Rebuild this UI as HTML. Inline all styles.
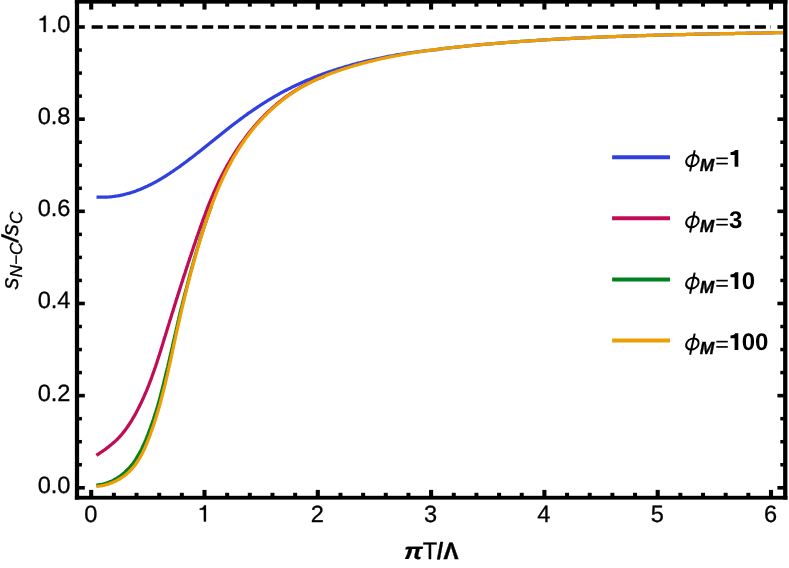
<!DOCTYPE html>
<html><head><meta charset="utf-8"><title>plot</title>
<style>
html,body{margin:0;padding:0;background:#fff;}
body{width:789px;height:568px;overflow:hidden;font-family:"Liberation Sans",sans-serif;}
svg{display:block;will-change:transform;}
text{font-family:"Liberation Sans",sans-serif;fill:#000;text-rendering:geometricPrecision;}
</style></head><body>
<svg width="789" height="568" viewBox="0 0 789 568">
<rect width="789" height="568" fill="#fff"/>
<g fill="none" stroke-linejoin="round" stroke-linecap="butt" stroke-width="3.25">
<path stroke="#2f40df" d="M96.5 197.0 L97.7 197.1 L98.9 197.1 L100.1 197.2 L101.3 197.2 L102.5 197.2 L103.7 197.2 L104.9 197.2 L106.1 197.1 L107.3 197.1 L108.5 197.0 L109.7 196.9 L110.9 196.8 L112.1 196.7 L113.3 196.5 L114.5 196.4 L115.6 196.2 L116.8 196.0 L118.0 195.8 L119.2 195.6 L120.4 195.4 L121.5 195.1 L122.7 194.9 L123.9 194.6 L125.0 194.3 L126.2 194.0 L127.4 193.7 L128.5 193.4 L129.7 193.1 L130.8 192.7 L132.0 192.3 L133.1 192.0 L134.2 191.6 L135.4 191.2 L136.5 190.8 L137.6 190.3 L138.7 189.9 L139.9 189.5 L141.0 189.0 L142.1 188.5 L143.2 188.1 L144.3 187.6 L145.4 187.1 L146.5 186.6 L147.5 186.1 L148.6 185.5 L149.7 185.0 L150.8 184.5 L151.8 183.9 L152.9 183.4 L154.0 182.8 L155.0 182.2 L156.1 181.7 L157.1 181.1 L158.2 180.5 L159.2 179.9 L160.2 179.3 L161.3 178.7 L162.3 178.1 L163.3 177.4 L164.3 176.8 L165.4 176.2 L166.4 175.5 L167.4 174.9 L168.4 174.2 L169.4 173.6 L170.4 172.9 L171.4 172.2 L172.4 171.6 L173.4 170.9 L174.4 170.2 L175.4 169.5 L176.3 168.8 L177.3 168.2 L178.3 167.5 L179.3 166.8 L180.3 166.1 L181.2 165.4 L182.2 164.7 L183.2 164.0 L184.1 163.2 L185.1 162.5 L186.1 161.8 L187.0 161.1 L188.0 160.4 L188.9 159.6 L189.9 158.9 L190.9 158.2 L191.8 157.5 L192.8 156.7 L193.7 156.0 L194.7 155.3 L195.6 154.5 L196.5 153.8 L197.5 153.0 L198.4 152.3 L199.4 151.6 L200.3 150.8 L201.3 150.1 L202.2 149.3 L203.1 148.6 L204.1 147.8 L205.0 147.1 L206.0 146.3 L206.9 145.6 L207.8 144.8 L208.8 144.1 L209.7 143.3 L210.6 142.6 L211.6 141.8 L212.5 141.1 L213.4 140.3 L214.4 139.6 L215.3 138.8 L216.2 138.1 L217.2 137.3 L218.1 136.6 L219.1 135.8 L220.0 135.1 L220.9 134.3 L221.9 133.6 L222.8 132.8 L223.7 132.1 L224.7 131.3 L225.6 130.6 L226.6 129.8 L227.5 129.1 L228.4 128.4 L229.4 127.6 L230.3 126.9 L231.3 126.1 L232.2 125.4 L233.2 124.7 L234.1 123.9 L235.1 123.2 L236.0 122.5 L237.0 121.8 L238.0 121.0 L238.9 120.3 L239.9 119.6 L240.8 118.9 L241.8 118.2 L242.8 117.4 L243.7 116.7 L244.7 116.0 L245.7 115.3 L246.7 114.6 L247.6 113.9 L248.6 113.2 L249.6 112.5 L250.6 111.9 L251.6 111.2 L252.5 110.5 L253.5 109.8 L254.5 109.1 L255.5 108.5 L256.5 107.8 L257.5 107.1 L258.5 106.5 L259.5 105.8 L260.5 105.2 L261.5 104.5 L262.5 103.9 L263.6 103.2 L264.6 102.6 L265.6 101.9 L266.6 101.3 L267.6 100.7 L268.7 100.0 L269.7 99.4 L270.7 98.8 L271.7 98.2 L272.8 97.6 L273.8 97.0 L274.8 96.4 L275.9 95.8 L276.9 95.2 L278.0 94.6 L279.0 94.0 L280.1 93.4 L281.1 92.8 L282.2 92.3 L283.2 91.7 L284.3 91.1 L285.4 90.6 L286.4 90.0 L287.5 89.5 L288.6 88.9 L289.6 88.4 L290.7 87.9 L291.8 87.3 L292.9 86.8 L293.9 86.3 L295.0 85.8 L296.1 85.2 L297.2 84.7 L298.3 84.2 L299.4 83.7 L300.5 83.2 L301.5 82.7 L302.6 82.2 L303.7 81.8 L304.8 81.3 L305.9 80.8 L307.0 80.3 L308.2 79.9 L309.3 79.4 L310.4 78.9 L311.5 78.5 L312.6 78.0 L313.7 77.6 L314.8 77.1 L315.9 76.7 L317.1 76.3 L318.2 75.8 L319.3 75.4 L320.4 75.0 L321.5 74.6 L322.7 74.1 L323.8 73.7 L324.9 73.3 L326.1 72.9 L327.2 72.5 L328.3 72.1 L329.5 71.7 L330.6 71.4 L331.7 71.0 L332.9 70.6 L334.0 70.2 L335.1 69.8 L336.3 69.5 L337.4 69.1 L338.6 68.7 L339.7 68.4 L340.9 68.0 L342.0 67.7 L343.2 67.3 L344.3 67.0 L345.5 66.7 L346.6 66.3 L347.8 66.0 L348.9 65.7 L350.1 65.3 L351.2 65.0 L352.4 64.7 L353.5 64.4 L354.7 64.1 L355.9 63.8 L357.0 63.4 L358.2 63.1 L359.4 62.8 L360.5 62.6 L361.7 62.3 L362.8 62.0 L364.0 61.7 L365.2 61.4 L366.3 61.1 L367.5 60.9 L368.7 60.6 L369.8 60.3 L371.0 60.0 L372.2 59.8 L373.4 59.5 L374.5 59.3 L375.7 59.0 L376.9 58.8 L378.1 58.5 L379.2 58.3 L380.4 58.0 L381.6 57.8 L382.8 57.5 L383.9 57.3 L385.1 57.1 L386.3 56.9 L387.5 56.6 L388.6 56.4 L389.8 56.2 L391.0 56.0 L392.2 55.8 L393.4 55.6 L394.6 55.3 L395.7 55.1 L396.9 54.9 L398.1 54.7 L399.3 54.5 L400.5 54.3 L401.7 54.2 L402.8 54.0 L404.0 53.8 L405.2 53.6 L406.4 53.4 L407.6 53.2 L408.8 53.1 L410.0 52.9 L411.1 52.7 L412.3 52.5 L413.5 52.4 L414.7 52.2 L415.9 52.0 L417.1 51.9 L418.3 51.7 L419.5 51.6 L420.7 51.4 L421.8 51.3 L423.0 51.1 L424.2 51.0 L425.4 50.8 L426.6 50.7 L427.8 50.6 L429.0 50.4 L430.2 50.3 L431.4 50.2 L432.6 50.0 L433.8 49.9 L435.0 49.8 L436.2 49.6 L437.3 49.5 L438.0 49.5 L438.7 49.1 L439.9 49.0 L441.1 48.8 L442.3 48.7 L443.5 48.6 L444.7 48.4 L445.9 48.3 L447.1 48.1 L448.2 48.0 L449.4 47.9 L450.6 47.7 L451.8 47.6 L453.0 47.5 L454.2 47.3 L455.4 47.2 L456.6 47.1 L457.8 47.0 L459.0 46.8 L460.2 46.7 L461.4 46.6 L462.6 46.5 L463.8 46.3 L464.9 46.2 L466.1 46.1 L467.3 46.0 L468.5 45.9 L469.7 45.7 L470.9 45.6 L472.1 45.5 L473.3 45.4 L474.5 45.3 L475.7 45.2 L476.9 45.1 L478.1 44.9 L479.3 44.8 L480.5 44.7 L481.7 44.6 L482.9 44.5 L484.1 44.4 L485.3 44.3 L486.5 44.2 L487.6 44.1 L488.8 44.0 L490.0 43.9 L491.2 43.8 L492.4 43.7 L493.6 43.6 L494.8 43.5 L496.0 43.4 L497.2 43.3 L498.4 43.2 L499.6 43.1 L500.8 43.0 L502.0 42.9 L503.2 42.8 L504.4 42.7 L505.6 42.6 L506.8 42.5 L508.0 42.4 L509.2 42.3 L510.4 42.2 L511.6 42.1 L512.8 42.1 L514.0 42.0 L515.2 41.9 L516.4 41.8 L517.6 41.7 L518.7 41.6 L519.9 41.5 L521.1 41.4 L522.3 41.4 L523.5 41.3 L524.7 41.2 L525.9 41.1 L527.1 41.0 L528.3 40.9 L529.5 40.9 L530.7 40.8 L531.9 40.7 L533.1 40.6 L534.3 40.5 L535.5 40.5 L536.7 40.4 L537.9 40.3 L539.1 40.2 L540.3 40.2 L541.5 40.1 L542.7 40.0 L543.9 39.9 L545.1 39.9 L546.3 39.8 L547.5 39.7 L548.7 39.6 L549.9 39.6 L551.1 39.5 L552.3 39.4 L553.5 39.4 L554.7 39.3 L555.9 39.2 L557.1 39.2 L558.3 39.1 L559.5 39.0 L560.7 39.0 L561.9 38.9 L563.1 38.8 L564.3 38.8 L565.5 38.7 L566.7 38.6 L567.9 38.6 L569.1 38.5 L570.3 38.5 L571.4 38.4 L572.6 38.3 L573.8 38.3 L575.0 38.2 L576.2 38.2 L577.4 38.1 L578.6 38.0 L579.8 38.0 L581.0 37.9 L582.2 37.9 L583.4 37.8 L584.6 37.8 L585.8 37.7 L587.0 37.6 L588.2 37.6 L589.4 37.5 L590.6 37.5 L591.8 37.4 L593.0 37.4 L594.2 37.3 L595.4 37.3 L596.6 37.2 L597.8 37.2 L599.0 37.1 L600.2 37.1 L601.4 37.0 L602.6 37.0 L603.8 36.9 L605.0 36.9 L606.2 36.8 L607.4 36.8 L608.6 36.7 L609.8 36.7 L611.0 36.6 L612.2 36.6 L613.4 36.6 L614.6 36.5 L615.8 36.5 L617.0 36.4 L618.2 36.4 L619.4 36.3 L620.6 36.3 L621.8 36.3 L623.0 36.2 L624.2 36.2 L625.4 36.1 L626.6 36.1 L627.8 36.0 L629.0 36.0 L630.2 36.0 L631.4 35.9 L632.6 35.9 L633.8 35.8 L635.0 35.8 L636.2 35.8 L637.4 35.7 L638.6 35.7 L639.8 35.7 L641.0 35.6 L642.2 35.6 L643.4 35.5 L644.6 35.5 L645.8 35.5 L647.0 35.4 L648.2 35.4 L649.4 35.4 L650.6 35.3 L651.8 35.3 L653.0 35.3 L654.2 35.2 L655.4 35.2 L656.6 35.2 L657.8 35.1 L659.0 35.1 L660.2 35.1 L661.4 35.0 L662.6 35.0 L663.8 35.0 L665.0 34.9 L666.2 34.9 L667.4 34.9 L668.6 34.9 L669.8 34.8 L671.0 34.8 L672.2 34.8 L673.4 34.7 L674.6 34.7 L675.8 34.7 L677.0 34.6 L678.2 34.6 L679.4 34.6 L680.6 34.6 L681.8 34.5 L683.0 34.5 L684.2 34.5 L685.4 34.5 L686.6 34.4 L687.8 34.4 L689.0 34.4 L690.2 34.3 L691.4 34.3 L692.6 34.3 L693.8 34.3 L695.0 34.2 L696.2 34.2 L697.4 34.2 L698.6 34.2 L699.8 34.1 L701.0 34.1 L702.2 34.1 L703.4 34.1 L704.6 34.0 L705.8 34.0 L707.0 34.0 L708.2 34.0 L709.4 33.9 L710.6 33.9 L711.8 33.9 L713.0 33.9 L714.2 33.8 L715.4 33.8 L716.6 33.8 L717.8 33.8 L719.0 33.8 L720.2 33.7 L721.4 33.7 L722.6 33.7 L723.8 33.7 L725.0 33.6 L726.2 33.6 L727.4 33.6 L728.6 33.6 L729.8 33.6 L731.0 33.5 L732.2 33.5 L733.4 33.5 L734.6 33.5 L735.8 33.4 L737.0 33.4 L738.2 33.4 L739.4 33.4 L740.6 33.4 L741.8 33.3 L743.0 33.3 L744.2 33.3 L745.4 33.3 L746.6 33.2 L747.8 33.2 L749.0 33.2 L750.2 33.2 L751.4 33.2 L752.6 33.1 L753.8 33.1 L755.0 33.1 L756.2 33.1 L757.4 33.1 L758.6 33.0 L759.8 33.0 L761.0 33.0 L762.2 33.0 L763.4 32.9 L764.6 32.9 L765.8 32.9 L767.0 32.9 L768.2 32.9 L769.4 32.8 L770.6 32.8 L771.8 32.8 L773.0 32.8 L774.2 32.7 L775.4 32.7 L776.6 32.7 L777.8 32.7 L779.0 32.7 L780.2 32.6 L781.4 32.6 L782.6 32.6 L783.3 32.6"/>
<path stroke="#c00c55" d="M96.4 455.4 L97.4 454.7 L98.4 454.1 L99.4 453.4 L100.4 452.7 L101.4 452.0 L102.4 451.3 L103.3 450.7 L104.3 450.0 L105.3 449.3 L106.3 448.6 L107.2 447.8 L108.2 447.1 L109.1 446.4 L110.1 445.6 L111.0 444.9 L111.9 444.1 L112.8 443.3 L113.7 442.6 L114.6 441.8 L115.5 440.9 L116.4 440.1 L117.3 439.3 L118.1 438.4 L118.9 437.6 L119.7 436.7 L120.5 435.8 L121.3 434.9 L122.1 434.0 L122.9 433.0 L123.6 432.1 L124.4 431.2 L125.1 430.2 L125.8 429.2 L126.5 428.3 L127.2 427.3 L127.9 426.3 L128.6 425.3 L129.2 424.3 L129.9 423.3 L130.5 422.3 L131.2 421.3 L131.8 420.3 L132.4 419.2 L133.0 418.2 L133.6 417.2 L134.2 416.1 L134.8 415.1 L135.4 414.0 L136.0 413.0 L136.5 411.9 L137.1 410.8 L137.6 409.8 L138.2 408.7 L138.7 407.6 L139.3 406.6 L139.8 405.5 L140.3 404.4 L140.9 403.3 L141.4 402.3 L141.9 401.2 L142.4 400.1 L142.9 399.0 L143.4 397.9 L143.9 396.8 L144.4 395.7 L144.8 394.6 L145.3 393.5 L145.8 392.4 L146.3 391.3 L146.7 390.2 L147.2 389.1 L147.6 388.0 L148.1 386.9 L148.5 385.7 L149.0 384.6 L149.4 383.5 L149.8 382.4 L150.2 381.3 L150.7 380.1 L151.1 379.0 L151.5 377.9 L151.9 376.8 L152.3 375.6 L152.7 374.5 L153.1 373.4 L153.5 372.2 L153.9 371.1 L154.3 370.0 L154.7 368.8 L155.1 367.7 L155.5 366.6 L155.9 365.4 L156.2 364.3 L156.6 363.2 L157.0 362.0 L157.4 360.9 L157.7 359.7 L158.1 358.6 L158.5 357.4 L158.8 356.3 L159.2 355.2 L159.6 354.0 L159.9 352.9 L160.3 351.7 L160.7 350.6 L161.0 349.4 L161.4 348.3 L161.7 347.1 L162.1 346.0 L162.4 344.9 L162.8 343.7 L163.1 342.6 L163.5 341.4 L163.8 340.3 L164.2 339.1 L164.5 338.0 L164.9 336.8 L165.3 335.7 L165.6 334.5 L166.0 333.4 L166.3 332.2 L166.7 331.1 L167.0 329.9 L167.4 328.8 L167.7 327.6 L168.1 326.5 L168.4 325.4 L168.8 324.2 L169.1 323.1 L169.5 321.9 L169.8 320.8 L170.2 319.6 L170.6 318.5 L170.9 317.3 L171.3 316.2 L171.6 315.0 L172.0 313.9 L172.3 312.7 L172.7 311.6 L173.1 310.5 L173.4 309.3 L173.8 308.2 L174.1 307.0 L174.5 305.9 L174.8 304.7 L175.2 303.6 L175.6 302.4 L175.9 301.3 L176.3 300.1 L176.6 299.0 L177.0 297.9 L177.4 296.7 L177.7 295.6 L178.1 294.4 L178.5 293.3 L178.8 292.1 L179.2 291.0 L179.5 289.9 L179.9 288.7 L180.3 287.6 L180.6 286.4 L181.0 285.3 L181.4 284.1 L181.7 283.0 L182.1 281.9 L182.5 280.7 L182.8 279.6 L183.2 278.4 L183.6 277.3 L183.9 276.1 L184.3 275.0 L184.7 273.9 L185.1 272.7 L185.4 271.6 L185.8 270.4 L186.2 269.3 L186.5 268.2 L186.9 267.0 L187.3 265.9 L187.7 264.7 L188.0 263.6 L188.4 262.5 L188.8 261.3 L189.2 260.2 L189.5 259.0 L189.9 257.9 L190.3 256.8 L190.7 255.6 L191.1 254.5 L191.4 253.3 L191.8 252.2 L192.2 251.1 L192.6 249.9 L193.0 248.8 L193.3 247.7 L193.7 246.5 L194.1 245.4 L194.5 244.2 L194.9 243.1 L195.3 242.0 L195.6 240.8 L196.0 239.7 L196.4 238.6 L196.8 237.4 L197.2 236.3 L197.6 235.2 L198.0 234.0 L198.4 232.9 L198.8 231.8 L199.2 230.6 L199.6 229.5 L200.0 228.4 L200.4 227.2 L200.8 226.1 L201.2 225.0 L201.6 223.8 L202.0 222.7 L202.4 221.6 L202.8 220.4 L203.2 219.3 L203.6 218.2 L204.0 217.1 L204.4 215.9 L204.9 214.8 L205.3 213.7 L205.7 212.6 L206.1 211.4 L206.6 210.3 L207.0 209.2 L207.4 208.1 L207.9 207.0 L208.3 205.9 L208.7 204.7 L209.2 203.6 L209.6 202.5 L210.1 201.4 L210.5 200.3 L211.0 199.2 L211.5 198.1 L211.9 197.0 L212.4 195.9 L212.9 194.8 L213.3 193.7 L213.8 192.6 L214.3 191.5 L214.8 190.4 L215.3 189.3 L215.8 188.2 L216.3 187.1 L216.8 186.0 L217.3 184.9 L217.8 183.8 L218.3 182.7 L218.8 181.6 L219.3 180.6 L219.9 179.5 L220.4 178.4 L220.9 177.3 L221.5 176.3 L222.0 175.2 L222.6 174.1 L223.1 173.1 L223.7 172.0 L224.2 170.9 L224.8 169.9 L225.4 168.8 L226.0 167.8 L226.5 166.7 L227.1 165.7 L227.7 164.6 L228.3 163.6 L228.9 162.6 L229.5 161.5 L230.1 160.5 L230.7 159.4 L231.3 158.4 L232.0 157.4 L232.6 156.4 L233.2 155.3 L233.9 154.3 L234.5 153.3 L235.1 152.3 L235.8 151.3 L236.4 150.3 L237.1 149.3 L237.8 148.3 L238.4 147.3 L239.1 146.3 L239.8 145.3 L240.5 144.3 L241.2 143.3 L241.9 142.4 L242.5 141.4 L243.3 140.4 L244.0 139.4 L244.7 138.5 L245.4 137.5 L246.1 136.6 L246.8 135.6 L247.6 134.6 L248.3 133.7 L249.1 132.8 L249.8 131.8 L250.6 130.9 L251.3 130.0 L252.1 129.0 L252.9 128.1 L253.6 127.2 L254.4 126.3 L255.2 125.4 L256.0 124.5 L256.8 123.6 L257.6 122.7 L258.4 121.8 L259.2 120.9 L260.0 120.0 L260.8 119.1 L261.7 118.3 L262.5 117.4 L263.3 116.6 L264.2 115.7 L265.0 114.8 L265.9 114.0 L266.7 113.2 L267.6 112.3 L268.5 111.5 L269.3 110.7 L270.2 109.9 L271.1 109.1 L272.0 108.3 L272.9 107.5 L273.8 106.7 L274.7 105.9 L275.6 105.1 L276.5 104.3 L277.4 103.5 L278.4 102.8 L279.3 102.0 L280.2 101.3 L281.2 100.5 L282.1 99.8 L283.1 99.1 L284.0 98.3 L285.0 97.6 L286.0 96.9 L286.9 96.2 L287.9 95.5 L288.9 94.8 L289.9 94.2 L290.9 93.5 L291.9 92.8 L292.9 92.1 L293.9 91.5 L294.9 90.9 L295.9 90.2 L296.9 89.6 L298.0 89.0 L299.0 88.3 L300.0 87.7 L301.1 87.1 L302.1 86.5 L303.2 86.0 L304.2 85.4 L305.3 84.8 L306.3 84.3 L307.4 83.7 L308.5 83.2 L309.5 82.6 L310.6 82.1 L311.7 81.6 L312.8 81.1 L313.9 80.6 L315.0 80.1 L316.1 79.6 L317.2 79.1 L318.3 78.6 L319.4 78.2 L320.5 77.7 L321.6 77.3 L322.7 76.9 L323.8 76.4 L324.8 76.1"/>
<path stroke="#008020" d="M96.3 485.2 L97.4 485.1 L98.6 484.9 L99.8 484.7 L100.9 484.5 L102.1 484.3 L103.2 484.0 L104.3 483.7 L105.4 483.4 L106.6 483.0 L107.7 482.6 L108.8 482.2 L109.8 481.8 L110.9 481.4 L112.0 480.9 L113.0 480.4 L114.1 479.8 L115.1 479.3 L116.1 478.7 L117.1 478.1 L118.1 477.5 L119.0 476.8 L120.0 476.2 L120.9 475.5 L121.8 474.8 L122.7 474.1 L123.6 473.3 L124.4 472.6 L125.2 471.8 L126.1 471.0 L126.9 470.2 L127.7 469.4 L128.5 468.6 L129.3 467.8 L130.1 466.9 L130.8 466.1 L131.6 465.2 L132.3 464.3 L133.0 463.4 L133.7 462.4 L134.3 461.5 L135.0 460.5 L135.6 459.6 L136.2 458.6 L136.8 457.6 L137.4 456.6 L138.0 455.6 L138.6 454.6 L139.2 453.6 L139.8 452.6 L140.3 451.5 L140.9 450.5 L141.4 449.5 L141.9 448.4 L142.4 447.3 L142.9 446.3 L143.4 445.2 L143.9 444.1 L144.4 443.0 L144.9 442.0 L145.3 440.9 L145.8 439.8 L146.2 438.7 L146.7 437.6 L147.1 436.5 L147.6 435.4 L148.0 434.3 L148.4 433.1 L148.9 432.0 L149.3 430.9 L149.7 429.8 L150.1 428.7 L150.5 427.6 L150.9 426.4 L151.3 425.3 L151.7 424.2 L152.1 423.1 L152.5 421.9 L152.9 420.8 L153.3 419.7 L153.7 418.5 L154.0 417.4 L154.4 416.3 L154.8 415.1 L155.1 414.0 L155.5 412.9 L155.9 411.7 L156.2 410.6 L156.6 409.4 L156.9 408.3 L157.3 407.2 L157.6 406.0 L158.0 404.9 L158.3 403.7 L158.6 402.6 L159.0 401.4 L159.3 400.3 L159.6 399.1 L159.9 398.0 L160.2 396.8 L160.5 395.6 L160.8 394.5 L161.1 393.3 L161.4 392.2 L161.7 391.0 L162.0 389.9 L162.3 388.7 L162.6 387.5 L162.9 386.4 L163.2 385.2 L163.5 384.0 L163.8 382.9 L164.1 381.7 L164.3 380.6 L164.6 379.4 L164.9 378.2 L165.2 377.1 L165.5 375.9 L165.8 374.7 L166.0 373.6 L166.3 372.4 L166.6 371.2 L166.9 370.1 L167.2 368.9 L167.5 367.8 L167.8 366.6 L168.0 365.4 L168.3 364.3 L168.6 363.1 L168.9 361.9 L169.2 360.8 L169.4 359.6 L169.7 358.4 L170.0 357.2 L170.2 356.1 L170.5 354.9 L170.8 353.7 L171.0 352.6 L171.3 351.4 L171.6 350.2 L171.8 349.1 L172.1 347.9 L172.4 346.7 L172.6 345.5 L172.9 344.4 L173.1 343.2 L173.4 342.0 L173.7 340.9 L173.9 339.7 L174.2 338.5 L174.5 337.3 L174.7 336.2 L175.0 335.0 L175.3 333.8 L175.5 332.7 L175.8 331.5 L176.1 330.3 L176.3 329.2 L176.6 328.0 L176.9 326.8 L177.1 325.6 L177.4 324.5 L177.7 323.3 L177.9 322.1 L178.2 321.0 L178.5 319.8 L178.7 318.6 L179.0 317.5 L179.3 316.3 L179.6 315.1 L179.8 313.9 L180.1 312.8 L180.4 311.6 L180.7 310.4 L181.0 309.3 L181.3 308.1 L181.6 307.0 L181.9 305.8 L182.2 304.6 L182.4 303.5 L182.7 302.3 L183.0 301.1 L183.3 300.0 L183.6 298.8 L183.9 297.6 L184.2 296.5 L184.5 295.3 L184.8 294.2 L185.1 293.0 L185.4 291.8 L185.8 290.7 L186.1 289.5 L186.4 288.3 L186.7 287.2 L187.0 286.0 L187.3 284.9 L187.6 283.7 L187.9 282.5 L188.2 281.4 L188.5 280.2 L188.8 279.1 L189.1 277.9 L189.4 276.7 L189.7 275.6 L190.0 274.4 L190.3 273.3 L190.6 272.1 L191.0 270.9 L191.3 269.8 L191.6 268.6 L191.9 267.5 L192.2 266.3 L192.6 265.2 L192.9 264.0 L193.2 262.8 L193.5 261.7 L193.8 260.5 L194.2 259.4 L194.5 258.2 L194.8 257.1 L195.2 255.9 L195.5 254.8 L195.8 253.6 L196.1 252.4 L196.5 251.3 L196.8 250.1 L197.2 249.0 L197.5 247.8 L197.8 246.7 L198.2 245.5 L198.5 244.4 L198.9 243.2 L199.2 242.1 L199.6 240.9 L199.9 239.8 L200.3 238.6 L200.7 237.5 L201.0 236.4 L201.4 235.2 L201.8 234.1 L202.1 232.9 L202.5 231.8 L202.9 230.7 L203.3 229.5 L203.6 228.4 L204.0 227.2 L204.4 226.1 L204.8 225.0 L205.2 223.8 L205.6 222.7 L206.0 221.6 L206.4 220.4 L206.7 219.3 L207.1 218.2 L207.5 217.0 L207.9 215.9 L208.3 214.8 L208.7 213.6 L209.1 212.5 L209.5 211.4 L209.9 210.2 L210.3 209.1 L210.8 208.0 L211.2 206.9 L211.6 205.7"/>
<path stroke="#ec9e04" d="M96.4 486.5 L97.6 486.4 L98.8 486.2 L100.0 486.0 L101.1 485.8 L102.3 485.6 L103.5 485.4 L104.7 485.1 L105.8 484.8 L107.0 484.4 L108.1 484.1 L109.3 483.7 L110.4 483.3 L111.5 482.9 L112.6 482.4 L113.7 482.0 L114.8 481.5 L115.9 481.0 L117.0 480.4 L118.0 479.8 L119.1 479.3 L120.1 478.6 L121.1 478.0 L122.1 477.3 L123.1 476.7 L124.1 476.0 L125.1 475.2 L126.0 474.5 L126.9 473.7 L127.8 472.9 L128.7 472.1 L129.6 471.3 L130.4 470.4 L131.2 469.6 L132.0 468.7 L132.8 467.8 L133.6 466.8 L134.3 465.9 L135.1 464.9 L135.8 464.0 L136.5 463.0 L137.2 462.0 L137.8 461.0 L138.5 460.0 L139.1 459.0 L139.7 458.0 L140.3 456.9 L140.9 455.9 L141.5 454.8 L142.0 453.8 L142.6 452.7 L143.1 451.6 L143.6 450.5 L144.2 449.4 L144.7 448.4 L145.1 447.3 L145.6 446.2 L146.1 445.1 L146.6 444.0 L147.0 442.8 L147.5 441.7 L147.9 440.6 L148.4 439.5 L148.8 438.4 L149.2 437.3 L149.7 436.1 L150.1 435.0 L150.5 433.9 L150.9 432.8 L151.3 431.6 L151.7 430.5 L152.1 429.4 L152.5 428.2 L152.9 427.1 L153.3 426.0 L153.7 424.8 L154.0 423.7 L154.4 422.6 L154.8 421.4 L155.2 420.3 L155.5 419.1 L155.9 418.0 L156.2 416.8 L156.6 415.7 L156.9 414.5 L157.3 413.4 L157.6 412.2 L158.0 411.1 L158.3 409.9 L158.7 408.8 L159.0 407.6 L159.3 406.5 L159.6 405.3 L160.0 404.2 L160.3 403.0 L160.6 401.9 L160.9 400.7 L161.2 399.5 L161.5 398.4 L161.8 397.2 L162.1 396.1 L162.4 394.9 L162.7 393.7 L163.0 392.6 L163.3 391.4 L163.6 390.3 L163.9 389.1 L164.2 387.9 L164.5 386.8 L164.8 385.6 L165.1 384.4 L165.3 383.3 L165.6 382.1 L165.9 380.9 L166.2 379.8 L166.4 378.6 L166.7 377.4 L167.0 376.2 L167.3 375.1 L167.5 373.9 L167.8 372.7 L168.1 371.6 L168.3 370.4 L168.6 369.2 L168.8 368.1 L169.1 366.9 L169.4 365.7 L169.6 364.5 L169.9 363.4 L170.1 362.2 L170.4 361.0 L170.7 359.9 L170.9 358.7 L171.2 357.5 L171.4 356.3 L171.7 355.2 L171.9 354.0 L172.2 352.8 L172.4 351.6 L172.7 350.5 L172.9 349.3 L173.2 348.1 L173.4 346.9 L173.7 345.8 L173.9 344.6 L174.2 343.4 L174.4 342.3 L174.7 341.1 L175.0 339.9 L175.2 338.7 L175.5 337.6 L175.7 336.4 L176.0 335.2 L176.2 334.0 L176.5 332.9 L176.7 331.7 L177.0 330.5 L177.3 329.4 L177.5 328.2 L177.8 327.0 L178.0 325.8 L178.3 324.7 L178.6 323.5 L178.8 322.3 L179.1 321.2 L179.4 320.0 L179.6 318.8 L179.9 317.7 L180.2 316.5 L180.4 315.3 L180.7 314.1 L181.0 313.0 L181.2 311.8 L181.5 310.6 L181.8 309.5 L182.0 308.3 L182.3 307.1 L182.6 306.0 L182.9 304.8 L183.1 303.6 L183.4 302.5 L183.7 301.3 L184.0 300.1 L184.3 299.0 L184.5 297.8 L184.8 296.6 L185.1 295.5 L185.4 294.3 L185.7 293.1 L186.0 292.0 L186.3 290.8 L186.5 289.6 L186.8 288.5 L187.1 287.3 L187.4 286.1 L187.7 285.0 L188.0 283.8 L188.3 282.6 L188.6 281.5 L188.9 280.3 L189.2 279.2 L189.5 278.0 L189.8 276.8 L190.1 275.7 L190.4 274.5 L190.7 273.4 L191.0 272.2 L191.3 271.0 L191.6 269.9 L192.0 268.7 L192.3 267.6 L192.6 266.4 L192.9 265.2 L193.2 264.1 L193.5 262.9 L193.8 261.8 L194.2 260.6 L194.5 259.5 L194.8 258.3 L195.1 257.2 L195.5 256.0 L195.8 254.8 L196.1 253.7 L196.5 252.5 L196.8 251.4 L197.1 250.2 L197.5 249.1 L197.8 247.9 L198.1 246.8 L198.5 245.6 L198.8 244.5 L199.2 243.3 L199.5 242.2 L199.9 241.0 L200.2 239.9 L200.6 238.7 L200.9 237.6 L201.3 236.4 L201.6 235.3 L202.0 234.1 L202.3 233.0 L202.7 231.9 L203.1 230.7 L203.4 229.6 L203.8 228.4 L204.2 227.3 L204.5 226.1 L204.9 225.0 L205.3 223.9 L205.7 222.7 L206.0 221.6 L206.4 220.4 L206.8 219.3 L207.2 218.2 L207.6 217.0 L208.0 215.9 L208.3 214.8 L208.7 213.6 L209.1 212.5 L209.5 211.4 L209.9 210.2 L210.3 209.1 L210.8 208.0 L211.2 206.9 L211.6 205.7 L212.0 204.6 L212.4 203.5 L212.8 202.4 L213.3 201.2 L213.7 200.1 L214.1 199.0 L214.6 197.9 L215.0 196.8 L215.4 195.6 L215.9 194.5 L216.3 193.4 L216.8 192.3 L217.2 191.2 L217.7 190.1 L218.2 189.0 L218.6 187.9 L219.1 186.8 L219.6 185.7 L220.0 184.6 L220.5 183.5 L221.0 182.4 L221.5 181.3 L222.0 180.2 L222.5 179.1 L223.0 178.0 L223.5 176.9 L224.0 175.8 L224.5 174.7 L225.1 173.7 L225.6 172.6 L226.1 171.5 L226.6 170.4 L227.2 169.4 L227.7 168.3 L228.3 167.2 L228.8 166.2 L229.4 165.1 L230.0 164.0 L230.5 163.0 L231.1 161.9 L231.7 160.9 L232.3 159.8 L232.8 158.8 L233.4 157.7 L234.0 156.7 L234.6 155.7 L235.2 154.6 L235.9 153.6 L236.5 152.6 L237.1 151.5 L237.7 150.5 L238.4 149.5 L239.0 148.5 L239.7 147.5 L240.3 146.5 L241.0 145.5 L241.6 144.5 L242.3 143.5 L243.0 142.5 L243.7 141.5 L244.4 140.5 L245.0 139.5 L245.7 138.6 L246.5 137.6 L247.2 136.6 L247.9 135.7 L248.6 134.7 L249.3 133.7 L250.1 132.8 L250.8 131.8 L251.5 130.9 L252.3 130.0 L253.1 129.0 L253.8 128.1 L254.6 127.2 L255.4 126.3 L256.1 125.4 L256.9 124.5 L257.7 123.6 L258.5 122.7 L259.3 121.8 L260.1 120.9 L260.9 120.0 L261.8 119.1 L262.6 118.2 L263.4 117.4 L264.2 116.5 L265.1 115.7 L265.9 114.8 L266.8 114.0 L267.6 113.1 L268.5 112.3 L269.4 111.5 L270.2 110.6 L271.1 109.8 L272.0 109.0 L272.9 108.2 L273.8 107.4 L274.7 106.6 L275.6 105.8 L276.5 105.0 L277.4 104.3 L278.3 103.5 L279.3 102.7 L280.2 102.0 L281.1 101.2 L282.1 100.5 L283.0 99.7 L284.0 99.0 L284.9 98.3 L285.9 97.6 L286.8 96.8 L287.8 96.1 L288.8 95.4 L289.8 94.7 L290.8 94.1 L291.8 93.4 L292.7 92.7 L293.7 92.1 L294.8 91.4 L295.8 90.7 L296.8 90.1 L297.8 89.5 L298.8 88.8 L299.8 88.2 L300.9 87.6 L301.9 87.0 L303.0 86.4 L304.0 85.8 L305.1 85.2 L306.1 84.7 L307.2 84.1 L308.2 83.5 L309.3 83.0 L310.4 82.5 L311.4 81.9 L312.5 81.4 L313.6 80.9 L314.7 80.3 L315.8 79.8 L316.9 79.3 L317.9 78.8 L319.0 78.3 L320.1 77.9 L321.2 77.4 L322.3 76.9 L323.4 76.4 L324.6 76.0 L325.7 75.5 L326.8 75.1 L327.9 74.6 L329.0 74.2 L330.1 73.8 L331.2 73.3 L332.4 72.9 L333.5 72.5 L334.6 72.1 L335.8 71.7 L336.9 71.3 L338.0 70.9 L339.2 70.5 L340.3 70.1 L341.4 69.7 L342.6 69.3 L343.7 69.0 L344.8 68.6 L346.0 68.2 L347.1 67.9 L348.3 67.5 L349.4 67.2 L350.6 66.8 L351.7 66.5 L352.9 66.1 L354.0 65.8 L355.2 65.4 L356.3 65.1 L357.5 64.8 L358.6 64.5 L359.8 64.1 L361.0 63.8 L362.1 63.5 L363.3 63.2 L364.4 62.9 L365.6 62.6 L366.8 62.3 L367.9 62.0 L369.1 61.7 L370.2 61.4 L371.4 61.1 L372.6 60.8 L373.7 60.5 L374.9 60.3 L376.1 60.0 L377.2 59.7 L378.4 59.4 L379.6 59.2 L380.8 58.9 L381.9 58.7 L383.1 58.4 L384.3 58.1 L385.4 57.9 L386.6 57.6 L387.8 57.4 L389.0 57.2 L390.1 56.9 L391.3 56.7 L392.5 56.4 L393.7 56.2 L394.8 56.0 L396.0 55.8 L397.2 55.5 L398.4 55.3 L399.6 55.1 L400.7 54.9 L401.9 54.7 L403.1 54.5 L404.3 54.2 L405.5 54.0 L406.7 53.8 L407.8 53.6 L409.0 53.4 L410.2 53.2 L411.4 53.0 L412.6 52.8 L413.8 52.7 L414.9 52.5 L416.1 52.3 L417.3 52.1 L418.5 51.9 L419.7 51.7 L420.9 51.6 L422.1 51.4 L423.2 51.2 L424.4 51.0 L425.6 50.9 L426.8 50.7 L428.0 50.5 L429.2 50.4 L430.4 50.2 L431.6 50.1 L432.8 49.9 L433.9 49.7 L435.1 49.6 L436.3 49.4 L437.5 49.3 L438.7 49.1 L439.9 49.0 L441.1 48.8 L442.3 48.7 L443.5 48.6 L444.7 48.4 L445.9 48.3 L447.1 48.1 L448.2 48.0 L449.4 47.9 L450.6 47.7 L451.8 47.6 L453.0 47.5 L454.2 47.3 L455.4 47.2 L456.6 47.1 L457.8 47.0 L459.0 46.8 L460.2 46.7 L461.4 46.6 L462.6 46.5 L463.8 46.3 L464.9 46.2 L466.1 46.1 L467.3 46.0 L468.5 45.9 L469.7 45.7 L470.9 45.6 L472.1 45.5 L473.3 45.4 L474.5 45.3 L475.7 45.2 L476.9 45.1 L478.1 44.9 L479.3 44.8 L480.5 44.7 L481.7 44.6 L482.9 44.5 L484.1 44.4 L485.3 44.3 L486.5 44.2 L487.6 44.1 L488.8 44.0 L490.0 43.9 L491.2 43.8 L492.4 43.7 L493.6 43.6 L494.8 43.5 L496.0 43.4 L497.2 43.3 L498.4 43.2 L499.6 43.1 L500.8 43.0 L502.0 42.9 L503.2 42.8 L504.4 42.7 L505.6 42.6 L506.8 42.5 L508.0 42.4 L509.2 42.3 L510.4 42.2 L511.6 42.1 L512.8 42.1 L514.0 42.0 L515.2 41.9 L516.4 41.8 L517.6 41.7 L518.7 41.6 L519.9 41.5 L521.1 41.4 L522.3 41.4 L523.5 41.3 L524.7 41.2 L525.9 41.1 L527.1 41.0 L528.3 40.9 L529.5 40.9 L530.7 40.8 L531.9 40.7 L533.1 40.6 L534.3 40.5 L535.5 40.5 L536.7 40.4 L537.9 40.3 L539.1 40.2 L540.3 40.2 L541.5 40.1 L542.7 40.0 L543.9 39.9 L545.1 39.9 L546.3 39.8 L547.5 39.7 L548.7 39.6 L549.9 39.6 L551.1 39.5 L552.3 39.4 L553.5 39.4 L554.7 39.3 L555.9 39.2 L557.1 39.2 L558.3 39.1 L559.5 39.0 L560.7 39.0 L561.9 38.9 L563.1 38.8 L564.3 38.8 L565.5 38.7 L566.7 38.6 L567.9 38.6 L569.1 38.5 L570.3 38.5 L571.4 38.4 L572.6 38.3 L573.8 38.3 L575.0 38.2 L576.2 38.2 L577.4 38.1 L578.6 38.0 L579.8 38.0 L581.0 37.9 L582.2 37.9 L583.4 37.8 L584.6 37.8 L585.8 37.7 L587.0 37.6 L588.2 37.6 L589.4 37.5 L590.6 37.5 L591.8 37.4 L593.0 37.4 L594.2 37.3 L595.4 37.3 L596.6 37.2 L597.8 37.2 L599.0 37.1 L600.2 37.1 L601.4 37.0 L602.6 37.0 L603.8 36.9 L605.0 36.9 L606.2 36.8 L607.4 36.8 L608.6 36.7 L609.8 36.7 L611.0 36.6 L612.2 36.6 L613.4 36.6 L614.6 36.5 L615.8 36.5 L617.0 36.4 L618.2 36.4 L619.4 36.3 L620.6 36.3 L621.8 36.3 L623.0 36.2 L624.2 36.2 L625.4 36.1 L626.6 36.1 L627.8 36.0 L629.0 36.0 L630.2 36.0 L631.4 35.9 L632.6 35.9 L633.8 35.8 L635.0 35.8 L636.2 35.8 L637.4 35.7 L638.6 35.7 L639.8 35.7 L641.0 35.6 L642.2 35.6 L643.4 35.5 L644.6 35.5 L645.8 35.5 L647.0 35.4 L648.2 35.4 L649.4 35.4 L650.6 35.3 L651.8 35.3 L653.0 35.3 L654.2 35.2 L655.4 35.2 L656.6 35.2 L657.8 35.1 L659.0 35.1 L660.2 35.1 L661.4 35.0 L662.6 35.0 L663.8 35.0 L665.0 34.9 L666.2 34.9 L667.4 34.9 L668.6 34.9 L669.8 34.8 L671.0 34.8 L672.2 34.8 L673.4 34.7 L674.6 34.7 L675.8 34.7 L677.0 34.6 L678.2 34.6 L679.4 34.6 L680.6 34.6 L681.8 34.5 L683.0 34.5 L684.2 34.5 L685.4 34.5 L686.6 34.4 L687.8 34.4 L689.0 34.4 L690.2 34.3 L691.4 34.3 L692.6 34.3 L693.8 34.3 L695.0 34.2 L696.2 34.2 L697.4 34.2 L698.6 34.2 L699.8 34.1 L701.0 34.1 L702.2 34.1 L703.4 34.1 L704.6 34.0 L705.8 34.0 L707.0 34.0 L708.2 34.0 L709.4 33.9 L710.6 33.9 L711.8 33.9 L713.0 33.9 L714.2 33.8 L715.4 33.8 L716.6 33.8 L717.8 33.8 L719.0 33.8 L720.2 33.7 L721.4 33.7 L722.6 33.7 L723.8 33.7 L725.0 33.6 L726.2 33.6 L727.4 33.6 L728.6 33.6 L729.8 33.6 L731.0 33.5 L732.2 33.5 L733.4 33.5 L734.6 33.5 L735.8 33.4 L737.0 33.4 L738.2 33.4 L739.4 33.4 L740.6 33.4 L741.8 33.3 L743.0 33.3 L744.2 33.3 L745.4 33.3 L746.6 33.2 L747.8 33.2 L749.0 33.2 L750.2 33.2 L751.4 33.2 L752.6 33.1 L753.8 33.1 L755.0 33.1 L756.2 33.1 L757.4 33.1 L758.6 33.0 L759.8 33.0 L761.0 33.0 L762.2 33.0 L763.4 32.9 L764.6 32.9 L765.8 32.9 L767.0 32.9 L768.2 32.9 L769.4 32.8 L770.6 32.8 L771.8 32.8 L773.0 32.8 L774.2 32.7 L775.4 32.7 L776.6 32.7 L777.8 32.7 L779.0 32.7 L780.2 32.6 L781.4 32.6 L782.6 32.6 L783.3 32.6"/>
</g>
<line x1="91.6" y1="27.0" x2="771" y2="27.0" stroke="#000" stroke-width="3.3" stroke-dasharray="11.1 4.69"/>
<g fill="#000">
<rect x="74.88" y="-0.15" width="4.25" height="499.75"/><rect x="783.12" y="-0.15" width="4.25" height="499.75"/><rect x="74.88" y="-0.15" width="712.50" height="3.80"/><rect x="74.88" y="495.80" width="712.50" height="3.80"/>
<rect x="89.15" y="489.90" width="4.10" height="6.40"/>
<rect x="89.15" y="3.15" width="4.10" height="6.40"/>
<rect x="111.86" y="492.80" width="4.00" height="3.50"/>
<rect x="111.86" y="3.15" width="4.00" height="3.50"/>
<rect x="134.52" y="492.80" width="4.00" height="3.50"/>
<rect x="134.52" y="3.15" width="4.00" height="3.50"/>
<rect x="157.18" y="492.80" width="4.00" height="3.50"/>
<rect x="157.18" y="3.15" width="4.00" height="3.50"/>
<rect x="179.84" y="492.80" width="4.00" height="3.50"/>
<rect x="179.84" y="3.15" width="4.00" height="3.50"/>
<rect x="202.45" y="489.90" width="4.10" height="6.40"/>
<rect x="202.45" y="3.15" width="4.10" height="6.40"/>
<rect x="225.16" y="492.80" width="4.00" height="3.50"/>
<rect x="225.16" y="3.15" width="4.00" height="3.50"/>
<rect x="247.82" y="492.80" width="4.00" height="3.50"/>
<rect x="247.82" y="3.15" width="4.00" height="3.50"/>
<rect x="270.48" y="492.80" width="4.00" height="3.50"/>
<rect x="270.48" y="3.15" width="4.00" height="3.50"/>
<rect x="293.14" y="492.80" width="4.00" height="3.50"/>
<rect x="293.14" y="3.15" width="4.00" height="3.50"/>
<rect x="315.75" y="489.90" width="4.10" height="6.40"/>
<rect x="315.75" y="3.15" width="4.10" height="6.40"/>
<rect x="338.46" y="492.80" width="4.00" height="3.50"/>
<rect x="338.46" y="3.15" width="4.00" height="3.50"/>
<rect x="361.12" y="492.80" width="4.00" height="3.50"/>
<rect x="361.12" y="3.15" width="4.00" height="3.50"/>
<rect x="383.78" y="492.80" width="4.00" height="3.50"/>
<rect x="383.78" y="3.15" width="4.00" height="3.50"/>
<rect x="406.44" y="492.80" width="4.00" height="3.50"/>
<rect x="406.44" y="3.15" width="4.00" height="3.50"/>
<rect x="429.05" y="489.90" width="4.10" height="6.40"/>
<rect x="429.05" y="3.15" width="4.10" height="6.40"/>
<rect x="451.76" y="492.80" width="4.00" height="3.50"/>
<rect x="451.76" y="3.15" width="4.00" height="3.50"/>
<rect x="474.42" y="492.80" width="4.00" height="3.50"/>
<rect x="474.42" y="3.15" width="4.00" height="3.50"/>
<rect x="497.08" y="492.80" width="4.00" height="3.50"/>
<rect x="497.08" y="3.15" width="4.00" height="3.50"/>
<rect x="519.74" y="492.80" width="4.00" height="3.50"/>
<rect x="519.74" y="3.15" width="4.00" height="3.50"/>
<rect x="542.35" y="489.90" width="4.10" height="6.40"/>
<rect x="542.35" y="3.15" width="4.10" height="6.40"/>
<rect x="565.06" y="492.80" width="4.00" height="3.50"/>
<rect x="565.06" y="3.15" width="4.00" height="3.50"/>
<rect x="587.72" y="492.80" width="4.00" height="3.50"/>
<rect x="587.72" y="3.15" width="4.00" height="3.50"/>
<rect x="610.38" y="492.80" width="4.00" height="3.50"/>
<rect x="610.38" y="3.15" width="4.00" height="3.50"/>
<rect x="633.04" y="492.80" width="4.00" height="3.50"/>
<rect x="633.04" y="3.15" width="4.00" height="3.50"/>
<rect x="655.65" y="489.90" width="4.10" height="6.40"/>
<rect x="655.65" y="3.15" width="4.10" height="6.40"/>
<rect x="678.36" y="492.80" width="4.00" height="3.50"/>
<rect x="678.36" y="3.15" width="4.00" height="3.50"/>
<rect x="701.02" y="492.80" width="4.00" height="3.50"/>
<rect x="701.02" y="3.15" width="4.00" height="3.50"/>
<rect x="723.68" y="492.80" width="4.00" height="3.50"/>
<rect x="723.68" y="3.15" width="4.00" height="3.50"/>
<rect x="746.34" y="492.80" width="4.00" height="3.50"/>
<rect x="746.34" y="3.15" width="4.00" height="3.50"/>
<rect x="768.95" y="489.90" width="4.10" height="6.40"/>
<rect x="768.95" y="3.15" width="4.10" height="6.40"/>
<rect x="78.62" y="486.00" width="6.20" height="3.60"/>
<rect x="777.42" y="486.00" width="6.20" height="3.60"/>
<rect x="78.62" y="463.01" width="3.30" height="3.50"/>
<rect x="780.33" y="463.01" width="3.30" height="3.50"/>
<rect x="78.62" y="439.97" width="3.30" height="3.50"/>
<rect x="780.33" y="439.97" width="3.30" height="3.50"/>
<rect x="78.62" y="416.93" width="3.30" height="3.50"/>
<rect x="780.33" y="416.93" width="3.30" height="3.50"/>
<rect x="78.62" y="393.84" width="6.20" height="3.60"/>
<rect x="777.42" y="393.84" width="6.20" height="3.60"/>
<rect x="78.62" y="370.85" width="3.30" height="3.50"/>
<rect x="780.33" y="370.85" width="3.30" height="3.50"/>
<rect x="78.62" y="347.81" width="3.30" height="3.50"/>
<rect x="780.33" y="347.81" width="3.30" height="3.50"/>
<rect x="78.62" y="324.77" width="3.30" height="3.50"/>
<rect x="780.33" y="324.77" width="3.30" height="3.50"/>
<rect x="78.62" y="301.68" width="6.20" height="3.60"/>
<rect x="777.42" y="301.68" width="6.20" height="3.60"/>
<rect x="78.62" y="278.69" width="3.30" height="3.50"/>
<rect x="780.33" y="278.69" width="3.30" height="3.50"/>
<rect x="78.62" y="255.65" width="3.30" height="3.50"/>
<rect x="780.33" y="255.65" width="3.30" height="3.50"/>
<rect x="78.62" y="232.61" width="3.30" height="3.50"/>
<rect x="780.33" y="232.61" width="3.30" height="3.50"/>
<rect x="78.62" y="209.52" width="6.20" height="3.60"/>
<rect x="777.42" y="209.52" width="6.20" height="3.60"/>
<rect x="78.62" y="186.53" width="3.30" height="3.50"/>
<rect x="780.33" y="186.53" width="3.30" height="3.50"/>
<rect x="78.62" y="163.49" width="3.30" height="3.50"/>
<rect x="780.33" y="163.49" width="3.30" height="3.50"/>
<rect x="78.62" y="140.45" width="3.30" height="3.50"/>
<rect x="780.33" y="140.45" width="3.30" height="3.50"/>
<rect x="78.62" y="117.36" width="6.20" height="3.60"/>
<rect x="777.42" y="117.36" width="6.20" height="3.60"/>
<rect x="78.62" y="94.37" width="3.30" height="3.50"/>
<rect x="780.33" y="94.37" width="3.30" height="3.50"/>
<rect x="78.62" y="71.33" width="3.30" height="3.50"/>
<rect x="780.33" y="71.33" width="3.30" height="3.50"/>
<rect x="78.62" y="48.29" width="3.30" height="3.50"/>
<rect x="780.33" y="48.29" width="3.30" height="3.50"/>
<rect x="78.62" y="25.20" width="6.20" height="3.60"/>
<rect x="777.42" y="25.20" width="6.20" height="3.60"/>
</g>
<g font-size="23.6" fill="#000" stroke="#000" stroke-width="0.3" stroke-linejoin="round">
<text x="90.7" y="522.0" text-anchor="middle">0</text>
<path d="M205.95 521.50 h-2.1 v-11.7 h-4.1 v-1.2 q3.5 -0.4 4.7 -3.4 h1.5 z"/>
<text x="317.3" y="522.0" text-anchor="middle">2</text>
<text x="430.6" y="522.0" text-anchor="middle">3</text>
<text x="543.9" y="522.0" text-anchor="middle">4</text>
<text x="657.2" y="522.0" text-anchor="middle">5</text>
<text x="770.5" y="522.0" text-anchor="middle">6</text>
<text x="70.5" y="493.0" text-anchor="end">0.0</text>
<text x="70.5" y="401.0" text-anchor="end">0.2</text>
<text x="70.5" y="308.0" text-anchor="end">0.4</text>
<text x="70.5" y="216.0" text-anchor="end">0.6</text>
<text x="70.5" y="124.0" text-anchor="end">0.8</text>
<text x="70.5" y="32.0" text-anchor="end">.0</text>
<path d="M45.75 31.95 h-2.1 v-11.7 h-4.1 v-1.2 q3.5 -0.4 4.7 -3.4 h1.5 z"/>
</g>
<g fill="#000">
<line x1="612.1" y1="157.2" x2="670" y2="157.2" stroke="#2f40df" stroke-width="3.9"/>
<g fill="none" stroke="#000" stroke-width="2.0"><g transform="translate(692.4 160.70) skewX(-12)"><ellipse rx="6.15" ry="5.6"/></g><line x1="690.1" y1="171.40" x2="694.7" y2="150.30" stroke-width="2"/></g>
<text x="699.8" y="171.00" font-size="17.4" font-weight="bold" font-style="italic" stroke="#000" stroke-width="0.35" stroke-linejoin="round">M</text>
<rect x="716.3" y="157.50" width="11.5" height="1.65"/><rect x="716.3" y="162.80" width="11.5" height="1.65"/>
<path d="M738.30 166.70 h-3.7 v-11.7 h-4.1 v-2.7 q3.6 -0.2 4.9 -2.3 h2.9 z"/>
<line x1="612.1" y1="218.3" x2="670" y2="218.3" stroke="#c00c55" stroke-width="3.9"/>
<g fill="none" stroke="#000" stroke-width="2.0"><g transform="translate(692.4 221.80) skewX(-12)"><ellipse rx="6.15" ry="5.6"/></g><line x1="690.1" y1="232.50" x2="694.7" y2="211.40" stroke-width="2"/></g>
<text x="699.8" y="232.10" font-size="17.4" font-weight="bold" font-style="italic" stroke="#000" stroke-width="0.35" stroke-linejoin="round">M</text>
<rect x="716.3" y="218.60" width="11.5" height="1.65"/><rect x="716.3" y="223.90" width="11.5" height="1.65"/>
<text x="728.90" y="227.80" font-size="24" font-weight="bold">3</text>
<line x1="612.1" y1="279.5" x2="670" y2="279.5" stroke="#008020" stroke-width="3.9"/>
<g fill="none" stroke="#000" stroke-width="2.0"><g transform="translate(692.4 283.00) skewX(-12)"><ellipse rx="6.15" ry="5.6"/></g><line x1="690.1" y1="293.70" x2="694.7" y2="272.60" stroke-width="2"/></g>
<text x="699.8" y="293.30" font-size="17.4" font-weight="bold" font-style="italic" stroke="#000" stroke-width="0.35" stroke-linejoin="round">M</text>
<rect x="716.3" y="279.80" width="11.5" height="1.65"/><rect x="716.3" y="285.10" width="11.5" height="1.65"/>
<path d="M738.30 289.00 h-3.7 v-11.7 h-4.1 v-2.7 q3.6 -0.2 4.9 -2.3 h2.9 z"/>
<text x="741.65" y="289.00" font-size="24" font-weight="bold">0</text>
<line x1="612.1" y1="340.5" x2="670" y2="340.5" stroke="#ec9e04" stroke-width="3.9"/>
<g fill="none" stroke="#000" stroke-width="2.0"><g transform="translate(692.4 344.00) skewX(-12)"><ellipse rx="6.15" ry="5.6"/></g><line x1="690.1" y1="354.70" x2="694.7" y2="333.60" stroke-width="2"/></g>
<text x="699.8" y="354.30" font-size="17.4" font-weight="bold" font-style="italic" stroke="#000" stroke-width="0.35" stroke-linejoin="round">M</text>
<rect x="716.3" y="340.80" width="11.5" height="1.65"/><rect x="716.3" y="346.10" width="11.5" height="1.65"/>
<path d="M738.30 350.00 h-3.7 v-11.7 h-4.1 v-2.7 q3.6 -0.2 4.9 -2.3 h2.9 z"/>
<text x="741.65" y="350.00" font-size="24" font-weight="bold">00</text>
</g>
<g stroke="#000" stroke-linejoin="round"><text transform="translate(404.0 558.8) scale(1.15 1)" font-size="23" font-weight="bold" font-style="italic" stroke-width="0.2">π</text><text x="422.7" y="558.8" font-size="23.6" stroke-width="0.3">T</text><text x="436.7" y="558.8" font-size="23.6" font-weight="bold" stroke-width="0.3">/</text><text transform="translate(443.4 558.8) scale(0.95 1)" font-size="23.6" font-weight="bold" stroke-width="0.5">Λ</text></g>
<text transform="translate(18.3 289.6) rotate(-90)" font-size="24" font-style="italic" stroke="#000" stroke-width="0.3" stroke-linejoin="round">s<tspan font-size="17.4" dy="4">N−C</tspan><tspan dy="-4" font-weight="bold" font-size="23">/</tspan>s<tspan font-size="17.4" dy="4">C</tspan></text>
</svg>
</body></html>
